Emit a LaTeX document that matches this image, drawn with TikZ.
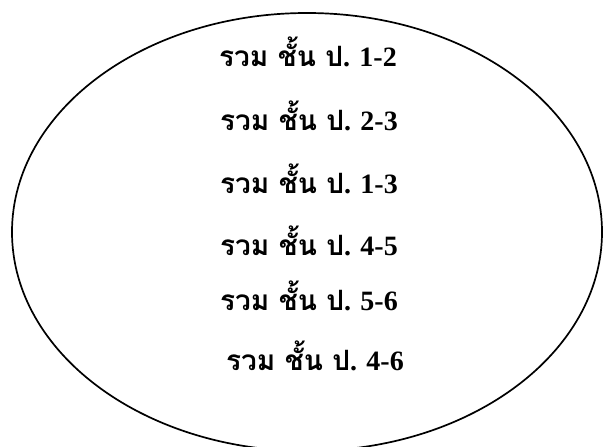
\documentclass[tikz,border=0pt]{standalone}
\usepackage{fontspec}
\setmainfont{Liberation Serif}
\newfontfamily\thaifont[Script=Thai]{Loma}
\usetikzlibrary{positioning}

\begin{document}
\begin{tikzpicture}[x=1pt, y=-1pt,
  grade/.style={anchor=base, inner sep=0pt,
    font=\bfseries\fontsize{28}{30}\selectfont},
  rim/.style={draw=black, line width=1.7pt},
]
  \useasboundingbox (0,0) rectangle (603,447);
  \clip (0,0) rectangle (603,447);

  % Outline
  \draw[rim] (307,232) ellipse [x radius=295, y radius=219];

  % Grade groups
  \node[grade] (g12) at (308,66)  {{\thaifont รวม ชั้น ป}. 1-2};
  \node[grade] (g23) at (309,130) {{\thaifont รวม ชั้น ป}. 2-3};
  \node[grade] (g13) at (309,193) {{\thaifont รวม ชั้น ป}. 1-3};
  \node[grade] (g45) at (309,255) {{\thaifont รวม ชั้น ป}. 4-5};
  \node[grade] (g56) at (309,310) {{\thaifont รวม ชั้น ป}. 5-6};
  \node[grade] (g46) at (315,370) {{\thaifont รวม ชั้น ป}. 4-6};
\end{tikzpicture}
\end{document}
